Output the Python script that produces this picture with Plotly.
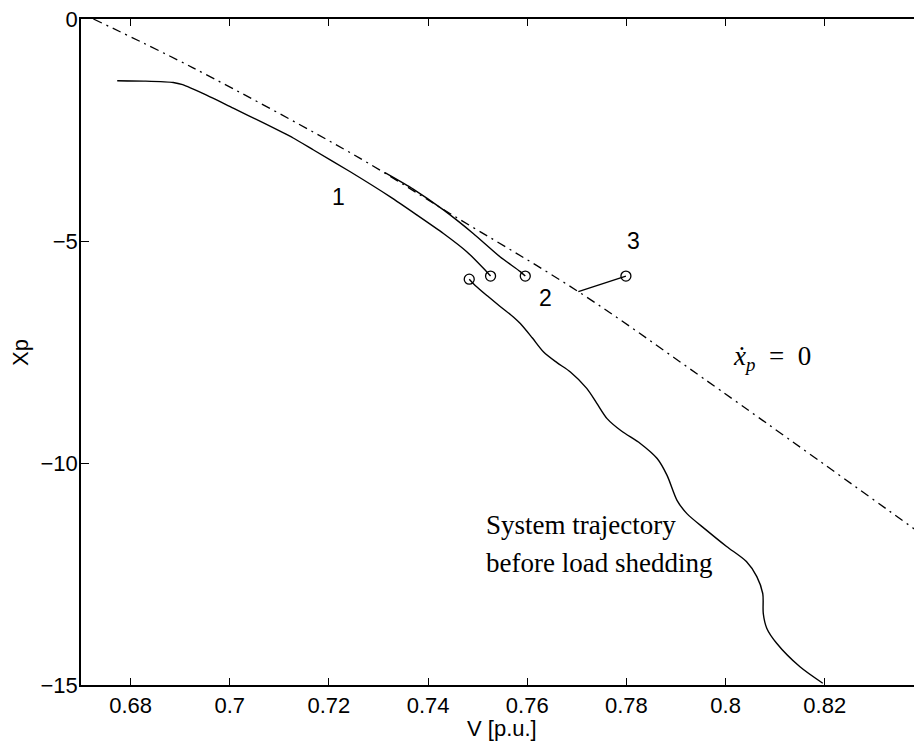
import plotly.graph_objects as go

# ---- data ----
traj1_v = [0.6773, 0.6830, 0.6886, 0.6905, 0.6950, 0.7007, 0.7068, 0.7128, 0.7169,
           0.7243, 0.7323, 0.7377, 0.7431, 0.7478, 0.7515, 0.7526]
traj1_xp = [-1.39, -1.40, -1.43, -1.48, -1.70, -2.01, -2.34, -2.68, -2.95,
            -3.44, -4.00, -4.41, -4.83, -5.24, -5.655, -5.79]

traj2_v = [0.7313, 0.7370, 0.7431, 0.7491, 0.7545, 0.7586, 0.7596]
traj2_xp = [-3.46, -3.83, -4.30, -4.83, -5.355, -5.69, -5.79]

traj3_v = [0.7703, 0.7799]
traj3_xp = [-6.14, -5.79]

before_v = [0.7483, 0.7495, 0.7520, 0.7546, 0.7572, 0.7586, 0.7610, 0.7633, 0.7660,
            0.7687, 0.7720, 0.7740, 0.7761, 0.7790, 0.7828, 0.7862, 0.7882, 0.7902,
            0.7922, 0.7960, 0.8002, 0.8042, 0.8063, 0.8075, 0.8076, 0.8083, 0.8103,
            0.8150, 0.8196]
before_xp = [-5.86, -6.00, -6.24, -6.48, -6.71, -6.86, -7.18, -7.50, -7.74,
             -7.95, -8.32, -8.65, -9.00, -9.28, -9.56, -9.90, -10.28, -10.84,
             -11.14, -11.50, -11.88, -12.22, -12.56, -12.94, -13.39, -13.72, -14.06,
             -14.59, -14.96]

nullcline_v = [0.6725, 0.6926, 0.7263, 0.7444, 0.7703, 0.7956, 0.8385]
nullcline_xp = [0.0, -1.10, -3.14, -4.38, -6.14, -8.10, -11.52]

end_points_v = [traj1_v[-1], traj2_v[-1], traj3_v[-1], before_v[0]]
end_points_xp = [traj1_xp[-1], traj2_xp[-1], traj3_xp[-1], before_xp[0]]

x_ticks = [0.68, 0.70, 0.72, 0.74, 0.76, 0.78, 0.80, 0.82]
x_tick_text = ["0.68", "0.7", "0.72", "0.74", "0.76", "0.78", "0.8", "0.82"]
y_ticks = [0, -5, -10, -15]

SANS = "Liberation Sans, Arial, Helvetica, sans-serif"
SERIF = "Liberation Serif, Times New Roman, serif"
line_style = dict(color="black", width=1.4)

fig = go.Figure()
fig.add_trace(go.Scatter(x=nullcline_v, y=nullcline_xp, mode="lines",
                         line=dict(color="black", width=1.3, dash="9px,5px,2px,5px", shape="spline"),
                         hoverinfo="skip"))
fig.add_trace(go.Scatter(x=traj1_v, y=traj1_xp, mode="lines",
                         line=dict(**line_style, shape="spline", smoothing=0.6)))
fig.add_trace(go.Scatter(x=traj2_v, y=traj2_xp, mode="lines",
                         line=dict(**line_style, shape="spline", smoothing=0.6)))
fig.add_trace(go.Scatter(x=traj3_v, y=traj3_xp, mode="lines", line=line_style))
fig.add_trace(go.Scatter(x=before_v, y=before_xp, mode="lines",
                         line=dict(**line_style, shape="spline", smoothing=0.8)))
fig.add_trace(go.Scatter(x=end_points_v, y=end_points_xp, mode="markers",
                         marker=dict(symbol="circle-open", size=10, color="black",
                                     line=dict(width=1.3, color="black"))))

annotations = [
    dict(x=0.7219, y=-4.00, text="1", font=dict(family=SANS, size=23, color="black")),
    dict(x=0.7636, y=-6.29, text="2", font=dict(family=SANS, size=23, color="black")),
    dict(x=0.7814, y=-4.99, text="3", font=dict(family=SANS, size=23, color="black")),
    dict(x=0.8010, y=-7.64, text="<i>x\u0307</i><sub><i>p</i></sub>\u00a0\u00a0=\u00a0\u00a00",
         xanchor="left", font=dict(family=SERIF, size=27, color="black")),
    dict(x=0.7513, y=-11.40, text="System trajectory", xanchor="left",
         font=dict(family=SERIF, size=27, color="black")),
    dict(x=0.7513, y=-12.25, text="before load shedding", xanchor="left",
         font=dict(family=SERIF, size=27, color="black")),
    dict(xref="paper", yref="paper", x=0.506, y=-0.066, text="V [p.u.]",
         font=dict(family=SANS, size=22, color="black")),
    dict(xref="paper", yref="paper", x=-0.072, y=0.4985, text="Xp", textangle=-90,
         font=dict(family=SANS, size=22, color="black")),
]
for a in annotations:
    a.setdefault("xref", "x")
    a.setdefault("yref", "y")
    a.setdefault("showarrow", False)
    a.setdefault("xanchor", "center")
    a.setdefault("yanchor", "middle")

fig.update_layout(
    width=914, height=741,
    margin=dict(l=81, r=0, t=19, b=56),
    paper_bgcolor="white", plot_bgcolor="white",
    showlegend=False,
    annotations=annotations,
    xaxis=dict(range=[0.67, 0.838], tickvals=x_ticks, ticktext=x_tick_text,
               ticks="inside", ticklen=7, tickwidth=1.3, tickcolor="black",
               showline=True, linecolor="black", linewidth=1.5, mirror="ticks",
               showgrid=False, zeroline=False,
               tickfont=dict(family=SANS, size=22, color="black")),
    yaxis=dict(range=[-15, 0], tickvals=y_ticks,
               ticks="inside", ticklen=8, tickwidth=1.3, tickcolor="black",
               showline=True, linecolor="black", linewidth=1.5, mirror=False,
               showgrid=False, zeroline=False, ticklabelstandoff=-3,
               tickfont=dict(family=SANS, size=22, color="black")),
)

fig.write_html("out.html", config={"displayModeBar": False},
               post_script="document.body.style.margin='0';document.body.style.overflow='hidden';")
